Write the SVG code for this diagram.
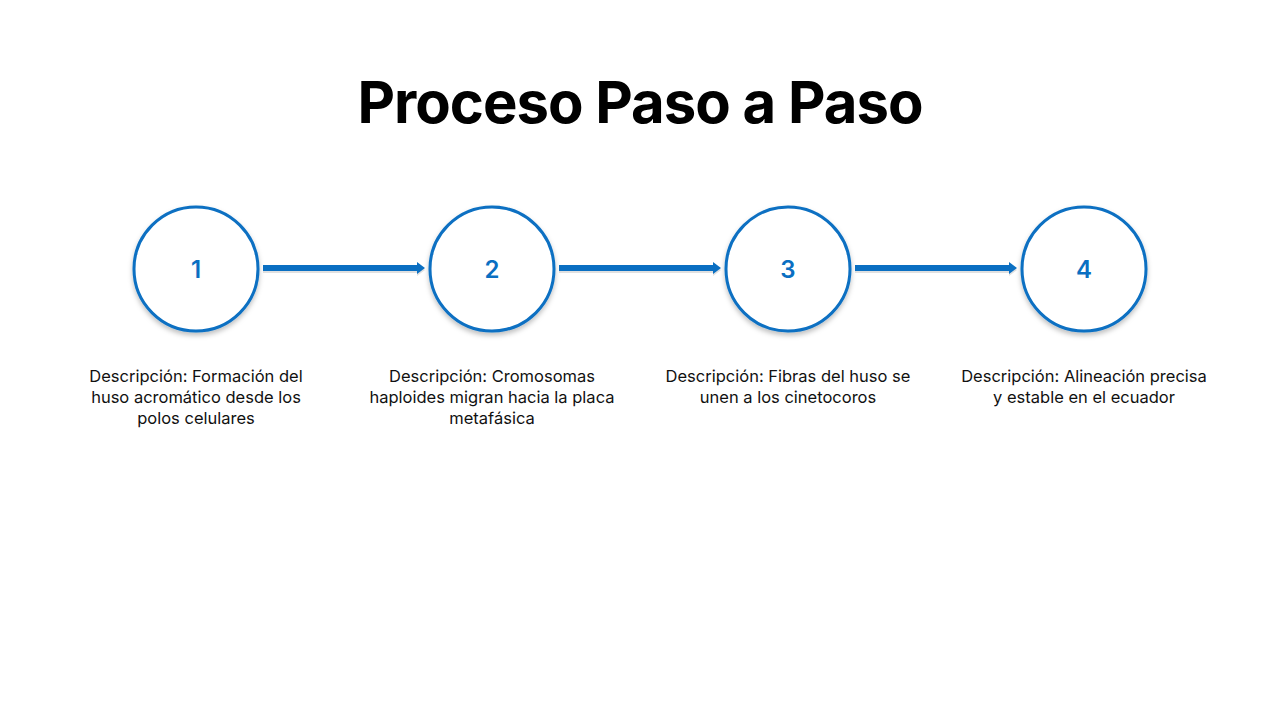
<svg xmlns="http://www.w3.org/2000/svg" width="1280" height="720" viewBox="0 0 1280 720">
<style>
.c{fill:#fff;stroke:#0A6FC2;stroke-width:3;filter:url(#sh)}
.n{font-family:Inter,"Liberation Sans",sans-serif;font-size:24px;font-weight:600;fill:#0A6FC2;text-anchor:middle}
.d{font-family:Inter,"Liberation Sans",sans-serif;font-size:16.5px;fill:#111;text-anchor:middle}
.a{fill:#0A6FC2}
.s{fill:#000;opacity:0.12}
</style>
<defs>
<filter id="sh" x="-20%" y="-20%" width="140%" height="150%"><feDropShadow dx="0" dy="3" stdDeviation="2.5" flood-color="#000" flood-opacity="0.25"/></filter>
</defs>
<rect width="1280" height="720" fill="#fff"/>
<text x="640" y="123" font-family="Inter,'Liberation Sans',sans-serif" font-size="58" font-weight="700" text-anchor="middle" fill="#000" letter-spacing="-1">Proceso Paso a Paso</text>
<g id="connectors">
<path class="s" d="M263,267 L417,267 L417,264 L425,270 L417,276 L417,273 L263,273 Z"/>
<path class="a" d="M263,265 L417,265 L417,262 L425,268 L417,274 L417,271 L263,271 Z"/>
<path class="s" d="M559,267 L713,267 L713,264 L721,270 L713,276 L713,273 L559,273 Z"/>
<path class="a" d="M559,265 L713,265 L713,262 L721,268 L713,274 L713,271 L559,271 Z"/>
<path class="s" d="M855,267 L1009,267 L1009,264 L1017,270 L1009,276 L1009,273 L855,273 Z"/>
<path class="a" d="M855,265 L1009,265 L1009,262 L1017,268 L1009,274 L1009,271 L855,271 Z"/>
</g>
<g id="step1"><circle class="c" cx="196" cy="269" r="62"/><text class="n" x="196" y="278">1</text>
<text class="d" x="196" y="382">Descripción: Formación del</text><text class="d" x="196" y="403">huso acromático desde los</text><text class="d" x="196" y="424">polos celulares</text></g>
<g id="step2"><circle class="c" cx="492" cy="269" r="62"/><text class="n" x="492" y="278">2</text>
<text class="d" x="492" y="382">Descripción: Cromosomas</text><text class="d" x="492" y="403">haploides migran hacia la placa</text><text class="d" x="492" y="424">metafásica</text></g>
<g id="step3"><circle class="c" cx="788" cy="269" r="62"/><text class="n" x="788" y="278">3</text>
<text class="d" x="788" y="382">Descripción: Fibras del huso se</text><text class="d" x="788" y="403">unen a los cinetocoros</text></g>
<g id="step4"><circle class="c" cx="1084" cy="269" r="62"/><text class="n" x="1084" y="278">4</text>
<text class="d" x="1084" y="382">Descripción: Alineación precisa</text><text class="d" x="1084" y="403">y estable en el ecuador</text></g>
</svg>
